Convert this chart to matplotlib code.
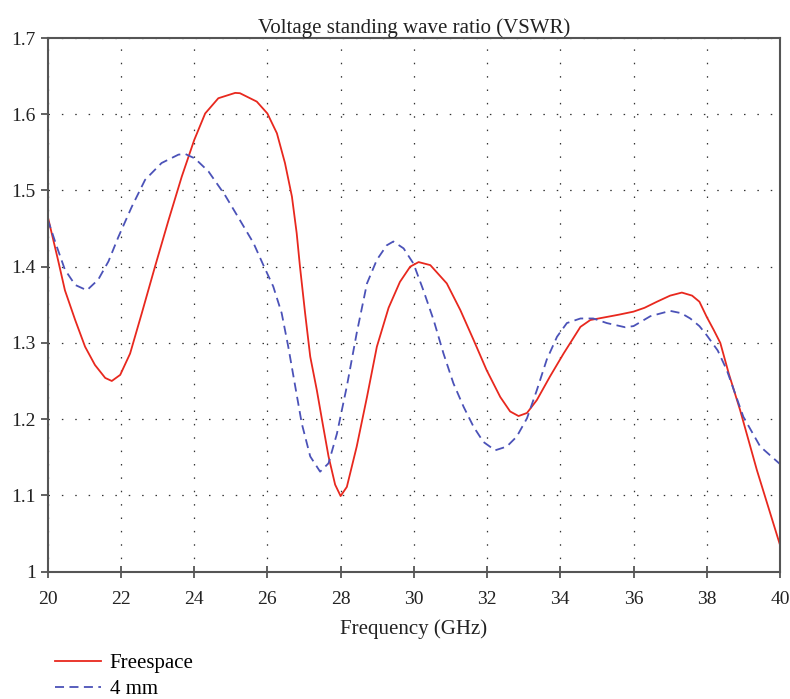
import matplotlib
matplotlib.use("Agg")
import matplotlib.pyplot as plt

plt.rcParams['font.family'] = ['Liberation Serif', 'DejaVu Serif']

title = "Voltage standing wave ratio (VSWR)"
xlabel = "Frequency (GHz)"
series_names = ["Freespace", "4 mm"]

free_x = [20.0, 20.29, 20.47, 20.75, 21.02, 21.29, 21.57, 21.75, 21.98, 22.25, 22.57, 22.93,
          23.30, 23.66, 24.0, 24.30, 24.66, 25.12, 25.25, 25.71, 26.0, 26.26, 26.48, 26.67,
          26.80, 26.89, 27.03, 27.17, 27.35, 27.51, 27.67, 27.85, 28.0, 28.17, 28.44, 28.72,
          28.99, 29.31, 29.62, 29.90, 30.13, 30.45, 30.90, 31.27, 31.63, 31.99, 32.36, 32.63,
          32.86, 33.09, 33.36, 33.72, 34.09, 34.55, 34.82, 35.27, 35.6, 36.0, 36.3, 36.64,
          37.0, 37.32, 37.6, 37.8, 38.0, 38.19, 38.37, 38.6, 38.91, 39.37, 40.0]
free_y = [1.466, 1.407, 1.369, 1.330, 1.295, 1.271, 1.254, 1.250, 1.258, 1.286, 1.339, 1.400,
          1.461, 1.518, 1.566, 1.601, 1.621, 1.628, 1.6276, 1.6166, 1.601, 1.575, 1.536, 1.492,
          1.444, 1.400, 1.339, 1.282, 1.238, 1.194, 1.151, 1.114, 1.099, 1.111, 1.164, 1.229,
          1.295, 1.346, 1.380, 1.400, 1.406, 1.402, 1.378, 1.343, 1.304, 1.264, 1.229, 1.210,
          1.204, 1.208, 1.225, 1.256, 1.286, 1.321, 1.330, 1.334, 1.337, 1.341, 1.346, 1.354,
          1.362, 1.366, 1.362, 1.354, 1.334, 1.317, 1.300, 1.260, 1.212, 1.133, 1.035]

mm4_x = [20.0, 20.25, 20.47, 20.75, 21.07, 21.38, 21.66, 21.93, 22.30, 22.66, 23.11, 23.57,
         23.75, 24.02, 24.39, 24.84, 25.25, 25.62, 25.89, 26.16, 26.39, 26.57, 26.76, 26.94,
         27.17, 27.44, 27.67, 27.90, 28.17, 28.44, 28.72, 28.99, 29.26, 29.44, 29.72, 29.99,
         30.26, 30.54, 30.81, 31.08, 31.36, 31.63, 31.90, 32.22, 32.54, 32.81, 33.09, 33.36,
         33.63, 33.91, 34.18, 34.55, 34.9, 35.27, 35.77, 36.0, 36.46, 37.0, 37.3, 37.55,
         37.8, 38.0, 38.3, 38.55, 39.0, 39.46, 40.0]
mm4_y = [1.462, 1.426, 1.396, 1.376, 1.369, 1.383, 1.407, 1.439, 1.479, 1.514, 1.536, 1.547,
         1.548, 1.542, 1.525, 1.494, 1.461, 1.431, 1.402, 1.374, 1.339, 1.295, 1.243, 1.194,
         1.151, 1.131, 1.142, 1.181, 1.243, 1.313, 1.378, 1.409, 1.428, 1.433, 1.424, 1.404,
         1.369, 1.330, 1.286, 1.247, 1.216, 1.190, 1.170, 1.159, 1.164, 1.177, 1.201, 1.238,
         1.278, 1.308, 1.326, 1.332, 1.332, 1.326, 1.3205, 1.322, 1.335, 1.342, 1.339, 1.332,
         1.322, 1.310, 1.290, 1.264, 1.203, 1.164, 1.141]

xticks = [20, 22, 24, 26, 28, 30, 32, 34, 36, 38, 40]
yticks = [1.0, 1.1, 1.2, 1.3, 1.4, 1.5, 1.6, 1.7]
ytick_labels = ["1", "1.1", "1.2", "1.3", "1.4", "1.5", "1.6", "1.7"]

fig = plt.figure(figsize=(7.9, 6.99), dpi=100)
ax = fig.add_axes([0.0604, 0.1824, 0.9269, 0.7632])

ax.plot(free_x, free_y, color='#e8281e', lw=1.3, label=series_names[0])
ax.plot(mm4_x, mm4_y, color='#4b52b8', lw=1.3, linestyle=(0, (5, 3)), label=series_names[1])

ax.set_xlim(20, 40)
ax.set_ylim(1.0, 1.7)
ax.set_xticks(xticks)
ax.set_xticklabels([str(t) for t in xticks])
ax.set_yticks(yticks)
ax.set_yticklabels(ytick_labels)
ax.tick_params(axis='x', direction='inout', length=8, width=1.3, colors='#555555',
               labelcolor='#222222', labelsize=14, pad=10)
ax.tick_params(axis='y', direction='out', length=5, width=1.3, colors='#555555',
               labelcolor='#222222', labelsize=14)
for s in ax.spines.values():
    s.set_color('#555555')
    s.set_linewidth(1.5)

ax.grid(True, color='#333333', linestyle=(0, (1.2, 9.5)), linewidth=0.9)
ax.set_axisbelow(True)

ax.set_title(title, fontsize=15, color='#222222', pad=1)
ax.set_xlabel(xlabel, fontsize=15, color='#222222', labelpad=8)

fig.legend(loc='upper left', bbox_to_anchor=(0.0696, 0.065), frameon=False,
           fontsize=15, handlelength=2.2, handletextpad=0.43, labelspacing=0.3,
           borderaxespad=0, borderpad=0)

fig.savefig("out.png", dpi=100)
